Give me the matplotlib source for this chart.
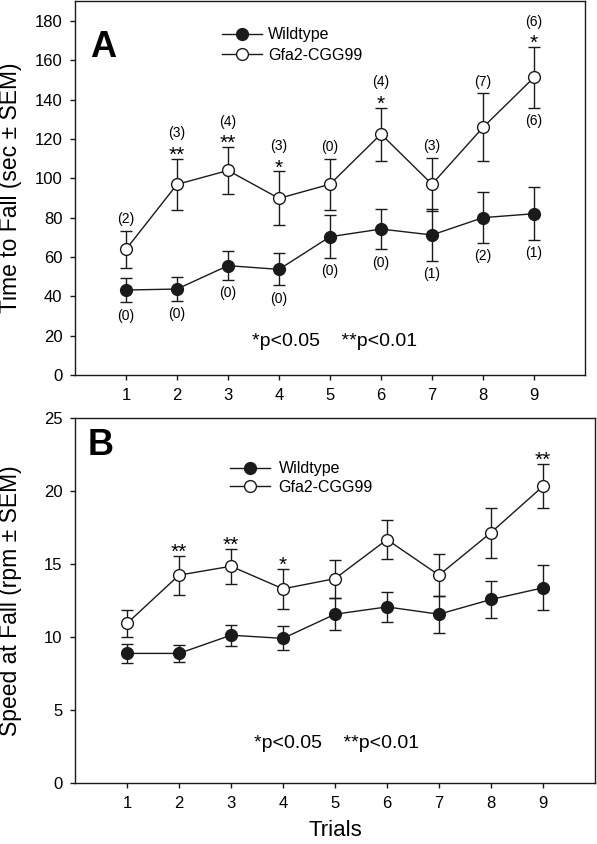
"""
Rotarod: tiempo y velocidad de caída por ensayo (Wildtype vs Gfa2-CGG99).
"""
import matplotlib
matplotlib.use('Agg')
import matplotlib.pyplot as plt

plt.rcParams['font.family'] = ['Liberation Sans', 'DejaVu Sans']

W, H = 597, 844
LINE = '#1a1a1a'

# --- Datos ---
trials = [1, 2, 3, 4, 5, 6, 7, 8, 9]

wt_time = [43.2, 43.7, 55.6, 53.7, 70.3, 74.2, 71.2, 80.0, 82.0]
wt_time_sem = [6.2, 5.9, 7.3, 8.1, 10.8, 10.3, 13.3, 12.9, 13.4]
gfa_time = [63.9, 96.9, 104.0, 89.8, 97.0, 122.5, 97.0, 125.9, 151.3]
gfa_time_sem = [9.5, 13.1, 12.0, 13.7, 13.0, 13.5, 13.4, 17.3, 15.5]

wt_speed = [8.87, 8.87, 10.12, 9.90, 11.56, 12.06, 11.56, 12.57, 13.37]
wt_speed_sem = [0.64, 0.60, 0.71, 0.83, 1.10, 1.05, 1.27, 1.25, 1.54]
gfa_speed = [10.93, 14.24, 14.85, 13.30, 14.00, 16.68, 14.24, 17.16, 20.34]
gfa_speed_sem = [0.92, 1.33, 1.20, 1.36, 1.31, 1.35, 1.45, 1.72, 1.52]

# número de caídas / significancia
gfa_counts_a = ['(2)', '(3)', '(4)', '(3)', '(0)', '(4)', '(3)', '(7)', '(6)']
gfa_counts_below_a = ['', '', '', '', '', '', '', '', '(6)']
wt_counts_a = ['(0)', '(0)', '(0)', '(0)', '(0)', '(0)', '(1)', '(2)', '(1)']
stars_a = ['', '**', '**', '*', '', '*', '', '', '*']
stars_b = ['', '**', '**', '*', '', '', '', '', '**']

labels = ['Wildtype', 'Gfa2-CGG99']
p_text = '*p<0.05    **p<0.01'


def px_rect(left, top, right, bottom):
    return [left / W, 1 - bottom / H, (right - left) / W, (bottom - top) / H]


def dibujar(ax, wt, wt_sem, gfa, gfa_sem):
    kw = dict(fmt='-o', color=LINE, lw=1, elinewidth=1, capsize=4.2,
              capthick=1, ms=8.5, mec=LINE, mew=1)
    e1 = ax.errorbar(trials, wt, yerr=wt_sem, mfc=LINE, **kw)
    e2 = ax.errorbar(trials, gfa, yerr=gfa_sem, mfc='white', **kw)
    ax.set_xlim(0, 10)
    ax.set_xticks(trials)
    ax.tick_params(direction='out', length=3.6, width=1, color=LINE,
                   labelsize=12, pad=5.5)
    ax.tick_params(axis='x', pad=6)
    for s in ax.spines.values():
        s.set_color(LINE)
        s.set_linewidth(1)
    return e1[0], e2[0]


def anotar(ax, x, y, txt, dy, size):
    if txt:
        ax.annotate(txt, (x, y), xytext=(0, dy), textcoords='offset points',
                    ha='center', va='baseline', fontsize=size)


fig = plt.figure(figsize=(W / 100, H / 100), dpi=100)

# --- Panel A ---
axA = fig.add_axes(px_rect(75, 1.3, 585, 375))
hA = dibujar(axA, wt_time, wt_time_sem, gfa_time, gfa_time_sem)
axA.set_ylim(0, 190)
axA.set_yticks(range(0, 181, 20))
axA.set_ylabel('Time to Fall (sec ± SEM)', fontsize=16.5)
axA.yaxis.label.set_va('center')
axA.yaxis.set_label_coords((11 - 75) / 510, 0.5)
for i, t in enumerate(trials):
    top = gfa_time[i] + gfa_time_sem[i]
    anotar(axA, t, top, stars_a[i], -1.5, 15)
    anotar(axA, t, top, gfa_counts_a[i], 15.3 if stars_a[i] else 5.3, 10)
    anotar(axA, t, gfa_time[i] - gfa_time_sem[i], gfa_counts_below_a[i], -12.5, 10)
    anotar(axA, t, wt_time[i] - wt_time_sem[i], wt_counts_a[i], -12.5, 10)
axA.legend(hA, labels, loc='center left', bbox_to_anchor=(222 / W, 1 - 45 / H),
           bbox_transform=fig.transFigure, frameon=False, fontsize=11.5,
           borderpad=0, borderaxespad=0, handlelength=2.5, handletextpad=0.4,
           labelspacing=0.35, numpoints=1)
fig.text(334.5 / W, 1 - 346 / H, p_text, ha='center', va='baseline', fontsize=14)
fig.text(103 / W, 1 - 57 / H, 'A', ha='center', va='baseline',
         fontsize=26, fontweight='bold')

# --- Panel B ---
axB = fig.add_axes(px_rect(75, 418.3, 595, 782.7))
hB = dibujar(axB, wt_speed, wt_speed_sem, gfa_speed, gfa_speed_sem)
axB.set_ylim(0, 25)
axB.set_yticks(range(0, 26, 5))
axB.set_ylabel('Speed at Fall (rpm ± SEM)', fontsize=16.5)
axB.yaxis.label.set_va('center')
axB.yaxis.set_label_coords((11 - 75) / 520, 0.5)
axB.set_xlabel('Trials', fontsize=16)
axB.xaxis.label.set_va('center')
axB.xaxis.set_label_coords(0.5, -(831 - 782.7) / 364.4)
for i, t in enumerate(trials):
    anotar(axB, t, gfa_speed[i] + gfa_speed_sem[i], stars_b[i], -1.5, 15)
axB.legend(hB, labels, loc='center left', bbox_to_anchor=(230 / W, 1 - 478 / H),
           bbox_transform=fig.transFigure, frameon=False, fontsize=11.5,
           borderpad=0, borderaxespad=0, handlelength=2.5, handletextpad=0.55,
           labelspacing=0.22, numpoints=1)
fig.text(336.5 / W, 1 - 748 / H, p_text, ha='center', va='baseline', fontsize=14)
fig.text(101 / W, 1 - 455 / H, 'B', ha='center', va='baseline',
         fontsize=26, fontweight='bold')

fig.savefig('out.png', dpi=100, facecolor='white')
